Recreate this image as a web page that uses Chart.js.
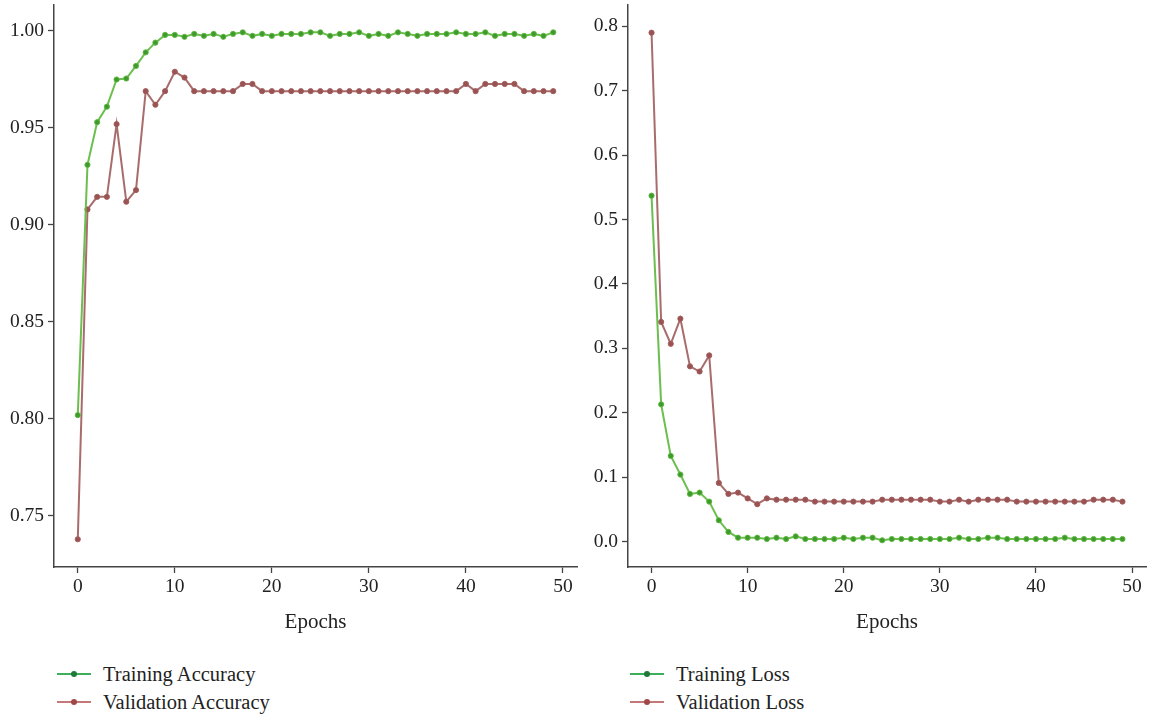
<!DOCTYPE html>
<html>
<head>
<meta charset="utf-8">
<script src="https://cdn.jsdelivr.net/npm/chart.js@4.4.1/dist/chart.umd.min.js"></script>
<style>
  body { margin: 0; background: #fff; width: 1151px; height: 716px; position: relative; overflow: hidden; }
  .box { position: absolute; top: 0; }
  #leftBox { left: 0; width: 585px; height: 635px; }
  #rightBox { left: 585px; width: 566px; height: 635px; }
  .legend { position: absolute; top: 660px; font-family: "Liberation Serif", "DejaVu Serif", serif; font-size: 20.5px; color: #222; }
  .legend div { height: 28px; line-height: 28px; display: flex; align-items: center; }
  .legend .sw { position: relative; width: 34px; height: 2px; margin-right: 12px; }
  .legend .sw i { position: absolute; left: 14px; top: -2px; width: 6px; height: 6px; border-radius: 50%; }
</style>
</head>
<body>
<div class="box" id="leftBox"><canvas id="accChart"></canvas></div>
<div class="box" id="rightBox"><canvas id="lossChart"></canvas></div>
<div class="legend" id="accLegend" style="left:57px"></div>
<div class="legend" id="lossLegend" style="left:630px"></div>
<script>
const epochs = Array.from({ length: 50 }, (_, i) => i);

const trainAcc = [0.802, 0.931, 0.953, 0.961, 0.975, 0.9755, 0.982, 0.989, 0.994, 0.998,
                  0.998, 0.997, 0.9985, 0.9975, 0.9985, 0.997, 0.9985, 0.9993, 0.9975, 0.9985,
                  0.9975, 0.9985, 0.9985, 0.9985, 0.9993, 0.9993, 0.9975, 0.9985, 0.9985, 0.9993,
                  0.9975, 0.9985, 0.9975, 0.9993, 0.9985, 0.9975, 0.9985, 0.9985, 0.9985, 0.9993,
                  0.9985, 0.9985, 0.9993, 0.9975, 0.9985, 0.9985, 0.9975, 0.9985, 0.9975, 0.9993];
const valAcc = [0.738, 0.908, 0.9145, 0.9145, 0.952, 0.912, 0.918, 0.969, 0.962, 0.969,
                0.979, 0.976, 0.969, 0.969, 0.969, 0.969, 0.969, 0.9727, 0.9727, 0.969,
                0.969, 0.969, 0.969, 0.969, 0.969, 0.969, 0.969, 0.969, 0.969, 0.969,
                0.969, 0.969, 0.969, 0.969, 0.969, 0.969, 0.969, 0.969, 0.969, 0.969,
                0.9727, 0.969, 0.9727, 0.9727, 0.9727, 0.9727, 0.969, 0.969, 0.969, 0.969];

const trainLoss = [0.537, 0.213, 0.133, 0.104, 0.074, 0.076, 0.062, 0.033, 0.015, 0.006,
                   0.006, 0.006, 0.004, 0.006, 0.004, 0.008, 0.004, 0.004, 0.004, 0.004,
                   0.006, 0.004, 0.006, 0.006, 0.002, 0.004, 0.004, 0.004, 0.004, 0.004,
                   0.004, 0.004, 0.006, 0.004, 0.004, 0.006, 0.006, 0.004, 0.004, 0.004,
                   0.004, 0.004, 0.004, 0.006, 0.004, 0.004, 0.004, 0.004, 0.004, 0.004];
const valLoss = [0.790, 0.341, 0.307, 0.346, 0.272, 0.264, 0.289, 0.091, 0.074, 0.076,
                 0.067, 0.058, 0.067, 0.065, 0.065, 0.065, 0.065, 0.062, 0.062, 0.062,
                 0.062, 0.062, 0.062, 0.062, 0.065, 0.065, 0.065, 0.065, 0.065, 0.065,
                 0.062, 0.062, 0.065, 0.062, 0.065, 0.065, 0.065, 0.065, 0.062, 0.062,
                 0.062, 0.062, 0.062, 0.062, 0.062, 0.062, 0.065, 0.065, 0.065, 0.062];

const xTicks = [0, 10, 20, 30, 40, 50];
const accTicks = [0.75, 0.80, 0.85, 0.90, 0.95, 1.00];
const lossTicks = [0.0, 0.1, 0.2, 0.3, 0.4, 0.5, 0.6, 0.7, 0.8];

const FONT = "'Liberation Serif', 'DejaVu Serif', serif";
const AXIS = "#444";

const green = { line: "rgba(92, 184, 60, 0.9)", point: "#3f9a2e", legendLine: "#3dae5c", legendDot: "#1f7a3a" };
const red = { line: "rgba(160, 92, 92, 0.9)", point: "#9a5252", legendLine: "#c47878", legendDot: "#a04848" };

function series(label, values, col) {
    return {
        label: label,
        data: values.map((v, i) => ({ x: epochs[i], y: v })),
        borderColor: col.line,
        backgroundColor: col.point,
        pointBackgroundColor: col.point,
        pointBorderColor: col.line,
        pointBorderWidth: 1,
        pointRadius: 2.6,
        borderWidth: 2,
        tension: 0
    };
}

function makeChart(id, datasets, yTicks, yMin, yMax, decimals, yWidth, padRight) {
    const ctx = document.getElementById(id).getContext("2d");
    return new Chart(ctx, {
        type: "line",
        data: { datasets: datasets },
        options: {
            responsive: true,
            maintainAspectRatio: false,
            animation: false,
            layout: { padding: { top: 5, right: padRight, left: 0, bottom: 0 } },
            plugins: { legend: { display: false }, tooltip: { enabled: false } },
            scales: {
                x: {
                    type: "linear",
                    min: -2.45,
                    max: 51.45,
                    afterBuildTicks: s => { s.ticks = xTicks.map(v => ({ value: v })); },
                    afterFit: s => { s.height = 68; s.paddingLeft = 0; s.paddingRight = 0; },
                    ticks: { font: { family: FONT, size: 19.5 }, color: "#222", padding: 2, maxRotation: 0,
                             callback: v => String(v) },
                    grid: { drawOnChartArea: false, drawTicks: true, tickLength: 6, color: AXIS, tickWidth: 1.3 },
                    border: { display: true, color: AXIS, width: 1.5 },
                    title: { display: true, text: "Epochs", font: { family: FONT, size: 21 }, color: "#222",
                             padding: { top: 0, bottom: 0 } }
                },
                y: {
                    min: yMin,
                    max: yMax,
                    afterBuildTicks: s => { s.ticks = yTicks.map(v => ({ value: v })); },
                    afterFit: s => { s.width = yWidth; s.paddingTop = 0; s.paddingBottom = 0; },
                    ticks: { font: { family: FONT, size: 19.5 }, color: "#222", padding: 4,
                             callback: v => Number(v).toFixed(decimals) },
                    grid: { drawOnChartArea: false, drawTicks: true, tickLength: 6, color: AXIS, tickWidth: 1.3 },
                    border: { display: true, color: AXIS, width: 1.5 }
                }
            }
        }
    });
}

function legend(id, datasets, cols) {
    const el = document.getElementById(id);
    datasets.forEach((d, i) => {
        const row = document.createElement("div");
        row.innerHTML = '<span class="sw" style="background:' + cols[i].legendLine + '"><i style="background:' +
            cols[i].legendDot + '"></i></span><span>' + d.label + '</span>';
        el.appendChild(row);
    });
}

const accSets = [series("Training Accuracy", trainAcc, green), series("Validation Accuracy", valAcc, red)];
const lossSets = [series("Training Loss", trainLoss, green), series("Validation Loss", valLoss, red)];

makeChart("accChart", accSets, accTicks, 0.7237, 1.0134, 2, 54, 8);
makeChart("lossChart", lossSets, lossTicks, -0.0395, 0.833, 1, 43, 1);

legend("accLegend", accSets, [green, red]);
legend("lossLegend", lossSets, [green, red]);
</script>
</body>
</html>
